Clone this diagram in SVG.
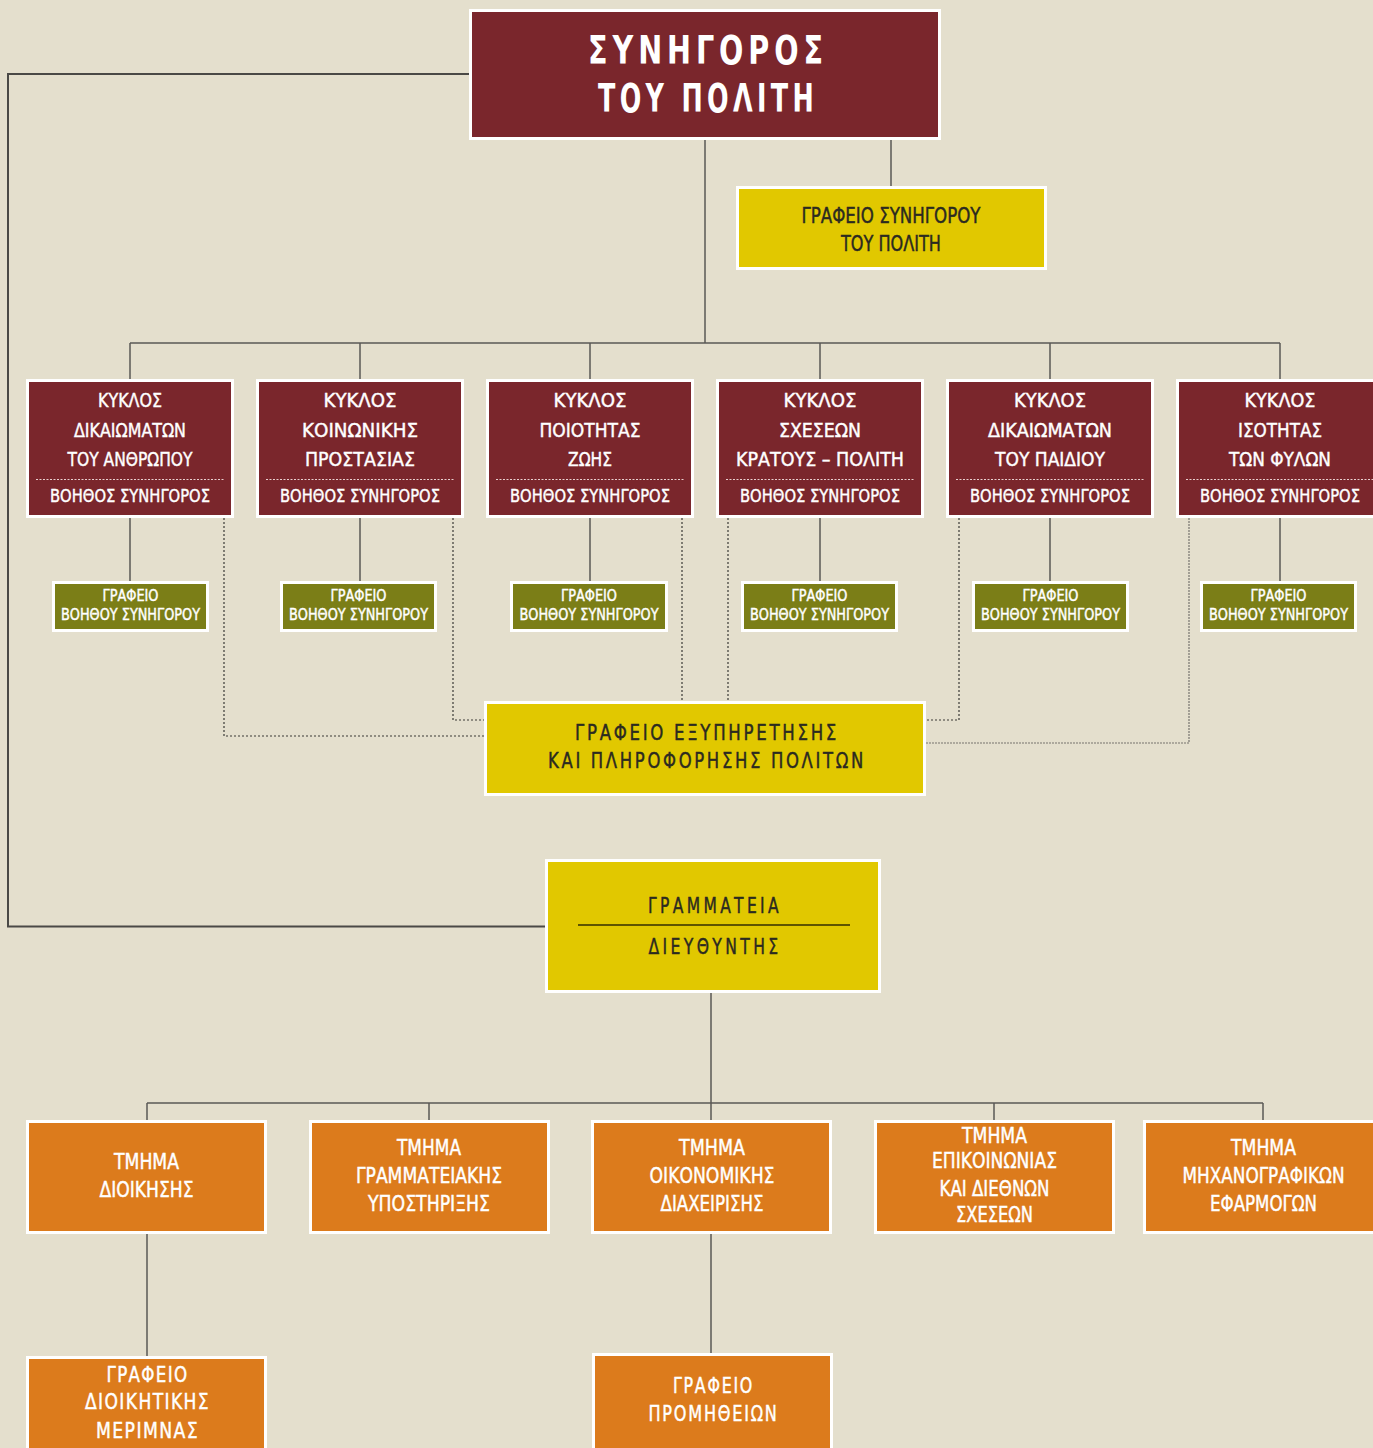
<svg xmlns="http://www.w3.org/2000/svg" width="1373" height="1448" viewBox="0 0 1373 1448">
<style>
text{font-family:"DejaVu Sans Condensed","DejaVu Sans","Liberation Sans",sans-serif;text-anchor:middle}
.m{fill:#7a262c;stroke:#fff;stroke-width:3}
.y{fill:#e1c800;stroke:#fff;stroke-width:3}
.g{fill:#7b7e17;stroke:#fff;stroke-width:3}
.o{fill:#dc7b1c;stroke:#fff;stroke-width:3}
.w{fill:#fff;stroke:#fff;stroke-width:0.4}
.d{fill:#2b2a20;stroke:#2b2a20;stroke-width:0.4}
.f19{font-size:19px}
.f17{font-size:17.5px}
.f15{font-size:15px}
.f20{font-size:20.5px}
.sep{stroke:#e8cfcf;stroke-width:1;stroke-dasharray:2 1.5;fill:none}
.ln{stroke:#5a5955;stroke-width:1.5;fill:none}
.frame{stroke:#4a4946;stroke-width:2;fill:none}
.dot{stroke:#3a3a36;stroke-width:1.2;stroke-dasharray:2 2;fill:none}
.dot2{stroke:#77756f;stroke-width:1.2;stroke-dasharray:2 1;fill:none}
</style>
<rect width="1373" height="1448" fill="#e4dfcd"/>

<g id="connectors">
<path class="frame" d="M469 74H8V926.5H546"/>
<path class="ln" d="M705 140V343M891 140V187"/>
<path class="ln" d="M130 343H1280M130 343V379M360 343V379M590 343V379M820 343V379M1050 343V379M1280 343V379"/>
<path class="ln" d="M130 518V581M360 518V581M590 518V581M820 518V581M1050 518V581M1280 518V581"/>
<path class="dot" d="M224 518V736H485M453 518V720H485M682 518V702M728 518V702M959 518V720H925"/>
<path class="dot2" d="M1189 518V743H925"/>
<path class="ln" d="M711 993V1103M147 1103H1263M147 1103V1121M429 1103V1121M711 1103V1121M994 1103V1121M1263 1103V1121"/>
<path class="ln" d="M147 1234V1356M711 1234V1354"/>
</g>

<g id="synigoros">
<rect class="m" x="470.5" y="10.5" width="469" height="128"/>
<text x="708" y="64" fill="#fff" font-size="39" font-weight="bold" letter-spacing="6" textLength="240" lengthAdjust="spacingAndGlyphs">ΣΥΝΗΓΟΡΟΣ</text>
<text x="708" y="112" fill="#fff" font-size="39" font-weight="bold" letter-spacing="6" textLength="220" lengthAdjust="spacingAndGlyphs">ΤΟΥ ΠΟΛΙΤΗ</text>
</g>

<g id="grafeio-synigorou">
<rect class="y" x="737.5" y="187.5" width="308" height="81"/>
<text class="d f20" x="891" y="223" textLength="179" lengthAdjust="spacingAndGlyphs">ΓΡΑΦΕΙΟ ΣΥΝΗΓΟΡΟΥ</text>
<text class="d f20" x="891" y="251" textLength="100" lengthAdjust="spacingAndGlyphs">ΤΟΥ ΠΟΛΙΤΗ</text>
</g>

<g id="kyklos1">
<rect class="m" x="27.5" y="380.5" width="205" height="136"/>
<text class="w f19" x="130" y="407" textLength="64" lengthAdjust="spacingAndGlyphs">ΚΥΚΛΟΣ</text>
<text class="w f19" x="130" y="437" textLength="112" lengthAdjust="spacingAndGlyphs">ΔΙΚΑΙΩΜΑΤΩΝ</text>
<text class="w f19" x="130" y="466" textLength="125" lengthAdjust="spacingAndGlyphs">ΤΟΥ ΑΝΘΡΩΠΟΥ</text>
<path class="sep" d="M36 479.5H224"/>
<text class="w f17" x="130" y="502" textLength="160" lengthAdjust="spacingAndGlyphs">ΒΟΗΘΟΣ ΣΥΝΗΓΟΡΟΣ</text>
</g>
<g id="kyklos2">
<rect class="m" x="257.5" y="380.5" width="205" height="136"/>
<text class="w f19" x="360" y="407" textLength="73" lengthAdjust="spacingAndGlyphs">ΚΥΚΛΟΣ</text>
<text class="w f19" x="360" y="437" textLength="116" lengthAdjust="spacingAndGlyphs">ΚΟΙΝΩΝΙΚΗΣ</text>
<text class="w f19" x="360" y="466" textLength="110" lengthAdjust="spacingAndGlyphs">ΠΡΟΣΤΑΣΙΑΣ</text>
<path class="sep" d="M266 479.5H454"/>
<text class="w f17" x="360" y="502" textLength="160" lengthAdjust="spacingAndGlyphs">ΒΟΗΘΟΣ ΣΥΝΗΓΟΡΟΣ</text>
</g>
<g id="kyklos3">
<rect class="m" x="487.5" y="380.5" width="205" height="136"/>
<text class="w f19" x="590" y="407" textLength="73" lengthAdjust="spacingAndGlyphs">ΚΥΚΛΟΣ</text>
<text class="w f19" x="590" y="437" textLength="101" lengthAdjust="spacingAndGlyphs">ΠΟΙΟΤΗΤΑΣ</text>
<text class="w f19" x="590" y="466" textLength="44" lengthAdjust="spacingAndGlyphs">ΖΩΗΣ</text>
<path class="sep" d="M496 479.5H684"/>
<text class="w f17" x="590" y="502" textLength="160" lengthAdjust="spacingAndGlyphs">ΒΟΗΘΟΣ ΣΥΝΗΓΟΡΟΣ</text>
</g>
<g id="kyklos4">
<rect class="m" x="717.5" y="380.5" width="205" height="136"/>
<text class="w f19" x="820" y="407" textLength="73" lengthAdjust="spacingAndGlyphs">ΚΥΚΛΟΣ</text>
<text class="w f19" x="820" y="437" textLength="82" lengthAdjust="spacingAndGlyphs">ΣΧΕΣΕΩΝ</text>
<text class="w f19" x="820" y="466" textLength="168" lengthAdjust="spacingAndGlyphs">ΚΡΑΤΟΥΣ – ΠΟΛΙΤΗ</text>
<path class="sep" d="M726 479.5H914"/>
<text class="w f17" x="820" y="502" textLength="160" lengthAdjust="spacingAndGlyphs">ΒΟΗΘΟΣ ΣΥΝΗΓΟΡΟΣ</text>
</g>
<g id="kyklos5">
<rect class="m" x="947.5" y="380.5" width="205" height="136"/>
<text class="w f19" x="1050" y="407" textLength="72" lengthAdjust="spacingAndGlyphs">ΚΥΚΛΟΣ</text>
<text class="w f19" x="1050" y="437" textLength="124" lengthAdjust="spacingAndGlyphs">ΔΙΚΑΙΩΜΑΤΩΝ</text>
<text class="w f19" x="1050" y="466" textLength="110" lengthAdjust="spacingAndGlyphs">ΤΟΥ ΠΑΙΔΙΟΥ</text>
<path class="sep" d="M956 479.5H1144"/>
<text class="w f17" x="1050" y="502" textLength="160" lengthAdjust="spacingAndGlyphs">ΒΟΗΘΟΣ ΣΥΝΗΓΟΡΟΣ</text>
</g>
<g id="kyklos6">
<rect class="m" x="1177.5" y="380.5" width="205" height="136"/>
<text class="w f19" x="1280" y="407" textLength="71" lengthAdjust="spacingAndGlyphs">ΚΥΚΛΟΣ</text>
<text class="w f19" x="1280" y="437" textLength="84" lengthAdjust="spacingAndGlyphs">ΙΣΟΤΗΤΑΣ</text>
<text class="w f19" x="1280" y="466" textLength="102" lengthAdjust="spacingAndGlyphs">ΤΩΝ ΦΥΛΩΝ</text>
<path class="sep" d="M1186 479.5H1374"/>
<text class="w f17" x="1280" y="502" textLength="160" lengthAdjust="spacingAndGlyphs">ΒΟΗΘΟΣ ΣΥΝΗΓΟΡΟΣ</text>
</g>

<g id="grafeio-voithou1">
<rect class="g" x="53.5" y="582.5" width="154" height="48"/>
<text class="w f15" x="130.5" y="601" textLength="56" lengthAdjust="spacingAndGlyphs">ΓΡΑΦΕΙΟ</text>
<text class="w f15" x="130.5" y="620" textLength="139" lengthAdjust="spacingAndGlyphs">ΒΟΗΘΟΥ ΣΥΝΗΓΟΡΟΥ</text>
</g>
<g id="grafeio-voithou2">
<rect class="g" x="281.5" y="582.5" width="154" height="48"/>
<text class="w f15" x="358.5" y="601" textLength="56" lengthAdjust="spacingAndGlyphs">ΓΡΑΦΕΙΟ</text>
<text class="w f15" x="358.5" y="620" textLength="139" lengthAdjust="spacingAndGlyphs">ΒΟΗΘΟΥ ΣΥΝΗΓΟΡΟΥ</text>
</g>
<g id="grafeio-voithou3">
<rect class="g" x="511.5" y="582.5" width="155" height="48"/>
<text class="w f15" x="589" y="601" textLength="56" lengthAdjust="spacingAndGlyphs">ΓΡΑΦΕΙΟ</text>
<text class="w f15" x="589" y="620" textLength="139" lengthAdjust="spacingAndGlyphs">ΒΟΗΘΟΥ ΣΥΝΗΓΟΡΟΥ</text>
</g>
<g id="grafeio-voithou4">
<rect class="g" x="742.5" y="582.5" width="154" height="48"/>
<text class="w f15" x="819.5" y="601" textLength="56" lengthAdjust="spacingAndGlyphs">ΓΡΑΦΕΙΟ</text>
<text class="w f15" x="819.5" y="620" textLength="139" lengthAdjust="spacingAndGlyphs">ΒΟΗΘΟΥ ΣΥΝΗΓΟΡΟΥ</text>
</g>
<g id="grafeio-voithou5">
<rect class="g" x="973.5" y="582.5" width="154" height="48"/>
<text class="w f15" x="1050.5" y="601" textLength="56" lengthAdjust="spacingAndGlyphs">ΓΡΑΦΕΙΟ</text>
<text class="w f15" x="1050.5" y="620" textLength="139" lengthAdjust="spacingAndGlyphs">ΒΟΗΘΟΥ ΣΥΝΗΓΟΡΟΥ</text>
</g>
<g id="grafeio-voithou6">
<rect class="g" x="1201.5" y="582.5" width="154" height="48"/>
<text class="w f15" x="1278.5" y="601" textLength="56" lengthAdjust="spacingAndGlyphs">ΓΡΑΦΕΙΟ</text>
<text class="w f15" x="1278.5" y="620" textLength="139" lengthAdjust="spacingAndGlyphs">ΒΟΗΘΟΥ ΣΥΝΗΓΟΡΟΥ</text>
</g>

<g id="grafeio-exypiretisis">
<rect class="y" x="485.5" y="702.5" width="439" height="92"/>
<text class="d f20" x="707" y="740" letter-spacing="3" textLength="264" lengthAdjust="spacingAndGlyphs">ΓΡΑΦΕΙΟ ΕΞΥΠΗΡΕΤΗΣΗΣ</text>
<text class="d f20" x="707" y="768" letter-spacing="3" textLength="318" lengthAdjust="spacingAndGlyphs">ΚΑΙ ΠΛΗΡΟΦΟΡΗΣΗΣ ΠΟΛΙΤΩΝ</text>
</g>

<g id="grammateia">
<rect class="y" x="546.5" y="860.5" width="333" height="131"/>
<text class="d f20" x="715" y="913" stroke-width="0.8" letter-spacing="4" textLength="134" lengthAdjust="spacingAndGlyphs">ΓΡΑΜΜΑΤΕΙΑ</text>
<path d="M578 925H850" stroke="#5e5400" stroke-width="2"/>
<text class="d f20" x="715" y="954" stroke-width="0.8" letter-spacing="4" textLength="133" lengthAdjust="spacingAndGlyphs">ΔΙΕΥΘΥΝΤΗΣ</text>
</g>

<g id="tmima-dioikisis">
<rect class="o" x="27.5" y="1121.5" width="238" height="111"/>
<text class="w f20" x="146.5" y="1169" textLength="65" lengthAdjust="spacingAndGlyphs">ΤΜΗΜΑ</text>
<text class="w f20" x="146.5" y="1197" textLength="94" lengthAdjust="spacingAndGlyphs">ΔΙΟΙΚΗΣΗΣ</text>
</g>
<g id="tmima-grammateiakis">
<rect class="o" x="310.5" y="1121.5" width="238" height="111"/>
<text class="w f20" x="429" y="1155" textLength="64" lengthAdjust="spacingAndGlyphs">ΤΜΗΜΑ</text>
<text class="w f20" x="429" y="1183" textLength="146" lengthAdjust="spacingAndGlyphs">ΓΡΑΜΜΑΤΕΙΑΚΗΣ</text>
<text class="w f20" x="429" y="1211" textLength="122" lengthAdjust="spacingAndGlyphs">ΥΠΟΣΤΗΡΙΞΗΣ</text>
</g>
<g id="tmima-oikonomikis">
<rect class="o" x="592.5" y="1121.5" width="238" height="111"/>
<text class="w f20" x="712" y="1155" textLength="66" lengthAdjust="spacingAndGlyphs">ΤΜΗΜΑ</text>
<text class="w f20" x="712" y="1183" textLength="125" lengthAdjust="spacingAndGlyphs">ΟΙΚΟΝΟΜΙΚΗΣ</text>
<text class="w f20" x="712" y="1211" textLength="103" lengthAdjust="spacingAndGlyphs">ΔΙΑΧΕΙΡΙΣΗΣ</text>
</g>
<g id="tmima-epikoinonias">
<rect class="o" x="875.5" y="1121.5" width="238" height="111"/>
<text class="w f20" x="994.5" y="1143" textLength="65" lengthAdjust="spacingAndGlyphs">ΤΜΗΜΑ</text>
<text class="w f20" x="994.5" y="1168" textLength="125" lengthAdjust="spacingAndGlyphs">ΕΠΙΚΟΙΝΩΝΙΑΣ</text>
<text class="w f20" x="994.5" y="1196" textLength="110" lengthAdjust="spacingAndGlyphs">ΚΑΙ ΔΙΕΘΝΩΝ</text>
<text class="w f20" x="994.5" y="1222" textLength="77" lengthAdjust="spacingAndGlyphs">ΣΧΕΣΕΩΝ</text>
</g>
<g id="tmima-michanografikon">
<rect class="o" x="1144.5" y="1121.5" width="238" height="111"/>
<text class="w f20" x="1263.5" y="1155" textLength="65" lengthAdjust="spacingAndGlyphs">ΤΜΗΜΑ</text>
<text class="w f20" x="1263.5" y="1183" textLength="162" lengthAdjust="spacingAndGlyphs">ΜΗΧΑΝΟΓΡΑΦΙΚΩΝ</text>
<text class="w f20" x="1263.5" y="1211" textLength="107" lengthAdjust="spacingAndGlyphs">ΕΦΑΡΜΟΓΩΝ</text>
</g>

<g id="grafeio-merimnas">
<rect class="o" x="27.5" y="1357.5" width="238" height="100"/>
<text class="w f20" x="147.5" y="1382" letter-spacing="1.5" textLength="82" lengthAdjust="spacingAndGlyphs">ΓΡΑΦΕΙΟ</text>
<text class="w f20" x="147.5" y="1409" letter-spacing="1.5" textLength="125" lengthAdjust="spacingAndGlyphs">ΔΙΟΙΚΗΤΙΚΗΣ</text>
<text class="w f20" x="147.5" y="1438" letter-spacing="1.5" textLength="103" lengthAdjust="spacingAndGlyphs">ΜΕΡΙΜΝΑΣ</text>
</g>
<g id="grafeio-promitheion">
<rect class="o" x="593.5" y="1354.5" width="238" height="100"/>
<text class="w f20" x="713.5" y="1393" letter-spacing="2" textLength="81" lengthAdjust="spacingAndGlyphs">ΓΡΑΦΕΙΟ</text>
<text class="w f20" x="713.5" y="1421" letter-spacing="2" textLength="130" lengthAdjust="spacingAndGlyphs">ΠΡΟΜΗΘΕΙΩΝ</text>
</g>
</svg>
